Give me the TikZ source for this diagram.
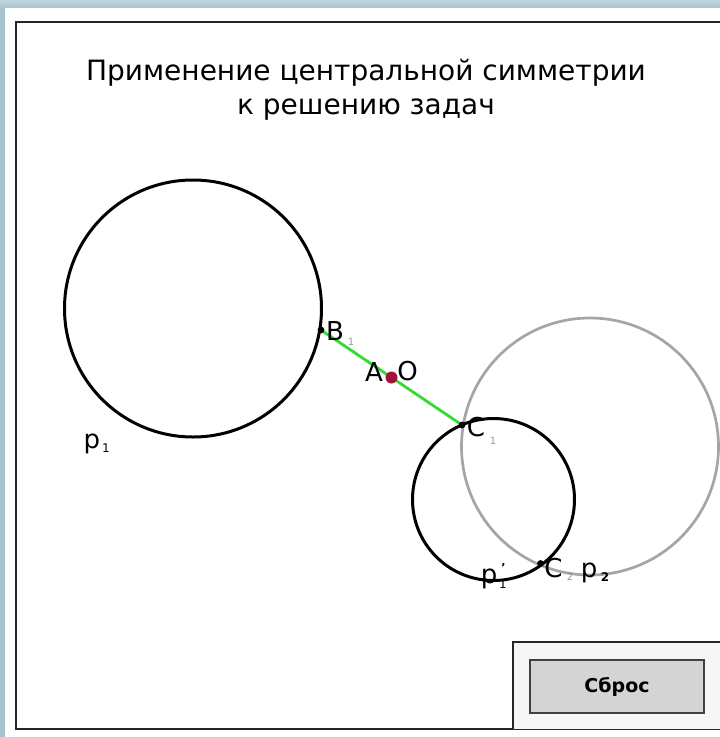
\documentclass[tikz,border=0pt]{standalone}
\usepackage{fontspec}
\setmainfont{DejaVu Sans}
\definecolor{bgblue}{RGB}{166,195,207}
\definecolor{dotred}{RGB}{160,20,60}
\definecolor{seggreen}{RGB}{50,220,50}
\definecolor{circgray}{RGB}{165,165,165}
\definecolor{subgray}{RGB}{150,150,150}
\definecolor{btngray}{RGB}{212,212,212}
\definecolor{panelgray}{RGB}{246,246,246}
\tikzset{
  blackcirc/.style={draw=black, line width=3pt},
  graycirc/.style={draw=circgray, line width=2.7pt},
  lbl/.style={font=\fontsize{26}{26}\selectfont, inner sep=0pt},
  sublbl/.style={font=\fontsize{10}{10}\selectfont, inner sep=0pt},
  frameline/.style={draw=black!85, line width=1.8pt},
}
\begin{document}
\begin{tikzpicture}[x=1pt,y=-1pt]
\useasboundingbox (0,0) rectangle (720,737);
% background
\fill[bgblue] (0,0) rectangle (720,737);
\shade[top color=bgblue!70!white, bottom color=bgblue] (0,0) rectangle (720,8);
\fill[white] (5,8) rectangle (720,737);
% main frame
\draw[frameline] (720,22) -- (16,22) -- (16,729) -- (720,729);
% title
\node[font=\fontsize{28}{30}\selectfont, align=center, inner sep=0pt] (title) at (366,90)
  {Применение центральной симметрии\\[4pt]к решению задач};
% points
\coordinate (O) at (391.5,377.5);
\coordinate (C1) at (462,425);
\coordinate (B1) at (321,330);
\coordinate (C2) at (540.5,563.5);
\coordinate (P1c) at (193,308.5);
\coordinate (P1r) at (590,446.5);
\coordinate (P2c) at (493.5,499.5);
% circles
\draw[blackcirc] (P1c) circle[radius=128.5];
\draw[graycirc] (P1r) circle[radius=128.5];
\draw[blackcirc] (P2c) circle[radius=81];
% segment
\draw[seggreen, line width=2.8pt] (B1) -- (C1);
\fill[black] (B1) circle[radius=3.4];
\fill[black] (C1) circle[radius=3.4];
\fill[black] (C2) circle[radius=3.4];
\fill[dotred] (O) circle[radius=6];
% labels
\node[lbl] (lB) at (335,331) {B};
\node[sublbl, text=subgray] (lB1) at (351,342) {1};
\node[lbl] (lA) at (374,372) {A};
\node[lbl] (lO) at (407.5,371.5) {O};
\node[lbl] (lC) at (476,427) {C};
\node[sublbl, text=subgray] (lC1) at (493,441) {1};
\node[lbl, anchor=base] (lp1) at (92,448) {p};
\node[sublbl, font=\fontsize{12}{12}\selectfont] (lp1s) at (106,448) {1};
\node[lbl, anchor=base] (lp1p) at (489,583) {p};
\node[sublbl, font=\fontsize{12}{12}\selectfont] (lp1ps) at (503,584) {1};
\node[sublbl, font=\bfseries\fontsize{11}{11}\selectfont] (lprime) at (503.5,567) {'};
\node[lbl] (lC2) at (553.5,568) {C};
\node[sublbl, text=subgray] (lC2s) at (570,577) {2};
\node[lbl, anchor=base] (lp2) at (589,577) {p};
\node[sublbl, font=\bfseries\fontsize{12}{12}\selectfont] (lp2s) at (605,577) {2};
% button panel
\fill[panelgray] (513,642) rectangle (720,729);
\draw[frameline] (720,642) -- (513,642) -- (513,729);
\node[draw=black!75, line width=1.3pt, fill=btngray, minimum width=174pt, minimum height=53pt,
      inner sep=0pt, font=\bfseries\fontsize{19}{19}\selectfont] (reset) at (617,686.5) {Сброс};
\end{tikzpicture}
\end{document}
